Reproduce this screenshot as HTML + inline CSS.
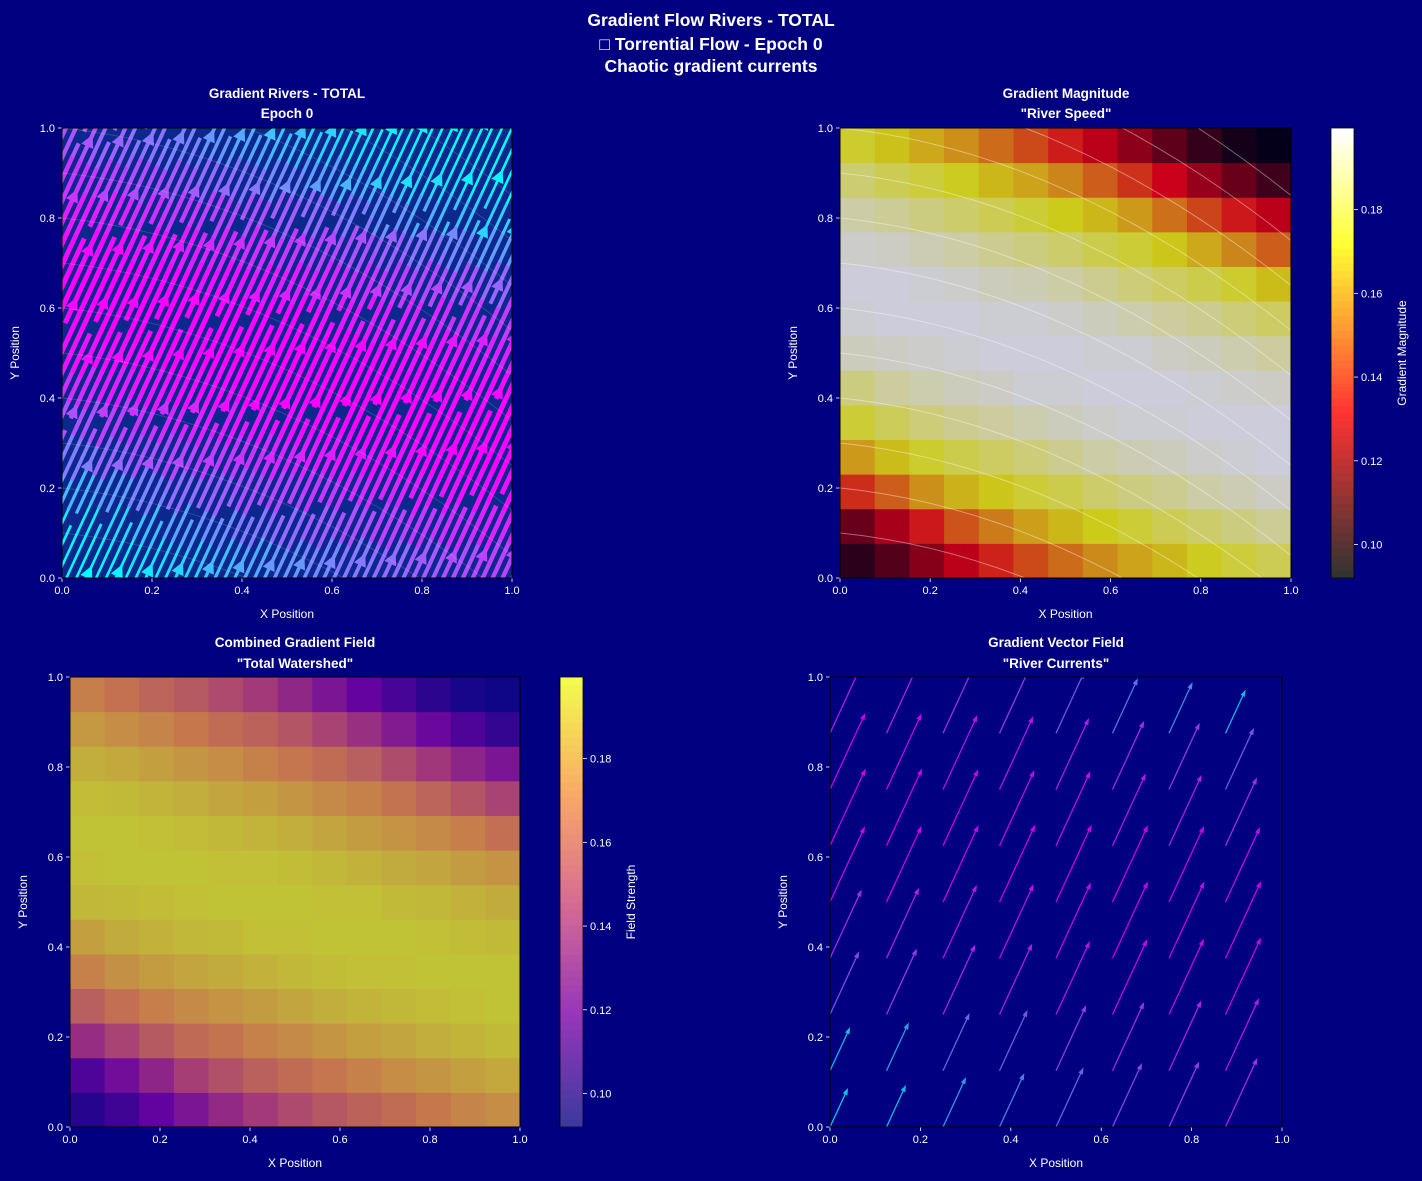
<!DOCTYPE html>
<html><head><meta charset="utf-8"><style>
html,body{margin:0;padding:0;background:#000080;}
svg{display:block;font-family:"Liberation Sans","DejaVu Sans","Noto Sans CJK SC",sans-serif;}
</style></head><body>
<svg id="fig" width="1422" height="1181" viewBox="0 0 1422 1181" xmlns="http://www.w3.org/2000/svg">
<rect width="1422" height="1181" fill="#000080"/>
<g fill="#fff" font-weight="bold" font-size="17.5" text-anchor="middle">
<text x="711" y="26">Gradient Flow Rivers - TOTAL</text>
<text x="711" y="50">□ Torrential Flow - Epoch 0</text>
<text x="711" y="72">Chaotic gradient currents</text>
</g>
<g fill="#fff" font-weight="bold" font-size="13.5" text-anchor="middle">
<text x="287" y="98">Gradient Rivers - TOTAL</text><text x="287" y="118">Epoch 0</text>
<text x="1066" y="98">Gradient Magnitude</text><text x="1066" y="118">"River Speed"</text>
<text x="295" y="647">Combined Gradient Field</text><text x="295" y="668">"Total Watershed"</text>
<text x="1056" y="647">Gradient Vector Field</text><text x="1056" y="668">"River Currents"</text>
</g>
<defs>
<clipPath id="c1"><rect x="62" y="128" width="450" height="450"/></clipPath>
<clipPath id="c2"><rect x="840" y="128" width="451" height="450"/></clipPath>
<clipPath id="c4"><rect x="830" y="677" width="452" height="450"/></clipPath>
</defs>
<g id="layer"></g>
</svg>
<script>
// Gradient magnitude field, rows bottom (y=0) to top (y=1), 13x13
const fieldRows = [
[.100,.108,.118,.128,.138,.146,.153,.159,.164,.168,.173,.177,.180],
[.112,.124,.136,.148,.156,.163,.168,.172,.176,.180,.183,.186,.189],
[.140,.150,.160,.167,.171,.176,.179,.183,.186,.188,.191,.193,.195],
[.162,.169,.175,.179,.182,.185,.188,.191,.193,.194,.196,.197,.198],
[.176,.181,.185,.188,.190,.192,.194,.196,.197,.197,.198,.198,.198],
[.186,.190,.192,.194,.195,.197,.197,.198,.198,.198,.197,.196,.195],
[.194,.195,.196,.197,.198,.198,.198,.197,.197,.195,.194,.192,.190],
[.197,.198,.198,.198,.197,.197,.196,.194,.192,.190,.188,.185,.182],
[.198,.198,.197,.196,.194,.193,.191,.188,.185,.182,.179,.175,.169],
[.196,.195,.193,.191,.188,.186,.183,.179,.176,.171,.165,.158,.150],
[.191,.189,.186,.183,.180,.176,.172,.168,.162,.154,.145,.136,.128],
[.184,.180,.177,.173,.168,.164,.158,.150,.141,.131,.121,.112,.104],
[.175,.170,.165,.160,.153,.146,.137,.128,.119,.110,.102,.096,.093]
];
const flowDir = [0.42, 0.91];
const tickLabels = ["0.0","0.2","0.4","0.6","0.8","1.0"];
const tickValues = [0,0.2,0.4,0.6,0.8,1.0];
const cbarTicks = [0.10,0.12,0.14,0.16,0.18];
const contourLevels = [-0.3,-0.2,-0.1,0,0.1,0.2,0.3,0.4,0.5,0.6,0.7,0.8,0.9,1.0,1.1,1.2,1.3];
const quiverPos = [0,0.125,0.25,0.375,0.5,0.625,0.75,0.875];
const VMIN=0.092, VMAX=0.1995;

const NS="http://www.w3.org/2000/svg";
const layer=document.getElementById('layer');
function mk(tag,attrs,parent){const e=document.createElementNS(NS,tag);for(const k in attrs)e.setAttribute(k,attrs[k]);(parent||layer).appendChild(e);return e;}
const N=fieldRows.length;
function field(x,y){let i=Math.min(N-1,Math.max(0,Math.floor(x*N)));let j=Math.min(N-1,Math.max(0,Math.floor(y*N)));return fieldRows[j][i];}
const fmin=Math.min(...fieldRows.flat()), fmax=Math.max(...fieldRows.flat());
function cl(v){return Math.max(0,Math.min(1,v));}
function hot(t){return [255*cl(t/0.365),255*cl((t-0.365)/0.381),255*cl((t-0.746)/0.254)];}
const plasmaStops=[[13,8,135],[126,3,168],[204,71,120],[248,149,64],[240,249,33]];
function plasma(t){t=cl(t)*4;let i=Math.min(3,Math.floor(t)),f=t-i;const a=plasmaStops[i],b=plasmaStops[i+1];return a.map((v,k)=>v+(b[k]-v)*f);}
function cool(t){t=cl(t);return [255*t,255*(1-t),255];}
function blend(c,a,bg){return 'rgb('+c.map((v,k)=>Math.round(v*a+bg[k]*(1-a))).join(',')+')';}
const NAVY=[0,0,128];

const P1={x:62,y:128,w:450,h:450},P2={x:840,y:128,w:451,h:450},P3={x:70,y:677,w:450,h:450},P4={x:830,y:677,w:452,h:450};
function px(P,x){return P.x+x*P.w;} function py(P,y){return P.y+(1-y)*P.h;}

function axes(P,name){
  const g=mk('g',{});
  tickValues.forEach((v,k)=>{
    const X=px(P,v),Y=py(P,v);
    mk('line',{x1:X,y1:P.y+P.h,x2:X,y2:P.y+P.h+4,stroke:'#fff','stroke-width':0.8},g);
    const tx=mk('text',{x:X,y:P.y+P.h+16,fill:'#fff','font-size':11,'text-anchor':'middle'},g);tx.textContent=tickLabels[k];
    
    mk('line',{x1:P.x-4,y1:Y,x2:P.x,y2:Y,stroke:'#fff','stroke-width':0.8},g);
    const ty=mk('text',{x:P.x-7,y:Y+4,fill:'#fff','font-size':11,'text-anchor':'end'},g);ty.textContent=tickLabels[k];
    
  });
  const xl=mk('text',{x:P.x+P.w/2,y:P.y+P.h+40,fill:'#fff','font-size':12,'text-anchor':'middle'},g);xl.textContent='X Position';
  
  const lx=P.x-43,ly=P.y+P.h/2;
  const yl=mk('text',{x:lx,y:ly,fill:'#fff','font-size':12,'text-anchor':'middle',transform:`rotate(-90 ${lx} ${ly})`},g);yl.textContent='Y Position';
  
  mk('rect',{x:P.x,y:P.y,width:P.w,height:P.h,fill:'none',stroke:'#000','stroke-width':1},g);
}

function heatmap(P,cmap,name){
  const g=mk('g',{});
  for(let j=0;j<N;j++)for(let i=0;i<N;i++){
    const t=(fieldRows[j][i]-VMIN)/(VMAX-VMIN);
    const r=mk('rect',{x:px(P,i/N),y:py(P,(j+1)/N),width:P.w/N+0.5,height:P.h/N+0.5,fill:blend(cmap(t),0.8,NAVY)},g);
    
    
  }
}
function contours(P,clip,op,name){
  const g=mk('g',{'clip-path':`url(#${clip})`});
  contourLevels.forEach(c=>{
    let d='';for(let s=0;s<=20;s++){const x=s/20,y=c-0.1*x-0.35*x*x;d+=(s?'L':'M')+px(P,x).toFixed(1)+','+py(P,y).toFixed(1);}
    const p=mk('path',{d:d,fill:'none',stroke:'#fff','stroke-opacity':op,'stroke-width':1},g);
    
  });
}
function colorbar(x,y,w,h,cmap,label,name){
  const g=mk('g',{});
  const n=60;
  for(let k=0;k<n;k++){mk('rect',{x:x,y:y+h-(k+1)*h/n,width:w,height:h/n+0.6,fill:blend(cmap(k/(n-1)),0.8,[255,255,255])},g);}
  mk('rect',{x:x,y:y,width:w,height:h,fill:'none',stroke:'#000','stroke-width':0.8},g);
  cbarTicks.forEach(v=>{const Y=y+h-(v-VMIN)/(VMAX-VMIN)*h;
    mk('line',{x1:x+w,y1:Y,x2:x+w+4,y2:Y,stroke:'#fff','stroke-width':0.8},g);
    const t=mk('text',{x:x+w+7,y:Y+4,fill:'#fff','font-size':11},g);t.textContent=v.toFixed(2);
    });
  const lx=x+w+52,ly=y+h/2;
  const t=mk('text',{x:lx,y:ly,fill:'#fff','font-size':12,'text-anchor':'middle',transform:`rotate(-90 ${lx} ${ly})`},g);t.textContent=label;
  
}

// Panel 1: streamplot
(function(){
  const P=P1;
  const g=mk('g',{'clip-path':'url(#c1)'});
  mk('rect',{x:P.x,y:P.y,width:P.w,height:P.h,fill:'rgb(12,40,140)'},g);
  contours(P,'c1',0.15,'stream-contours');
  const L=Math.hypot(flowDir[0],flowDir[1]);const ux=flowDir[0]/L,uy=-flowDir[1]/L;
  const nx=-uy,ny=ux;const cx=P.x+P.w/2,cy=P.y+P.h/2;
  let li=0;
  for(let s=-340;s<=340;s+=9,li++){
    const ox=cx+nx*s,oy=cy+ny*s;
    let k=0;
    for(let t=-360;t<360;t+=14,k++){
      if(((k*7+li*13)%23)===0)continue;
      const x1=ox+ux*t,y1=oy+uy*t,x2=ox+ux*(t+15),y2=oy+uy*(t+15);
      const mx=(x1+x2)/2,my=(y1+y2)/2;
      if(mx<P.x-20||mx>P.x+P.w+20||my<P.y-20||my>P.y+P.h+20)continue;
      const m=field((mx-P.x)/P.w,1-(my-P.y)/P.h);const tn=Math.pow((m-fmin)/(fmax-fmin),1.6);
      const col=blend(cool(tn),1,NAVY);
      const seg=mk('line',{x1:x1,y1:y1,x2:x2,y2:y2,stroke:col,'stroke-width':(2.5+2.5*tn).toFixed(2)},g);
      
      if(((k+li*4)%13)===0){
        const hx=x2,hy=y2,bx=hx-ux*13,by=hy-uy*13;
        const a=mk('polygon',{points:`${hx},${hy} ${bx+nx*6.5},${by+ny*6.5} ${bx-nx*6.5},${by-ny*6.5}`,fill:col},g);
        
      }
    }
  }
  axes(P,'rivers');
})();

// Panel 2: magnitude
heatmap(P2,hot,'magnitude-heatmap');
contours(P2,'c2',0.4,'magnitude-contours');
axes(P2,'magnitude');
colorbar(1331,128,23,450,hot,'Gradient Magnitude','magnitude-colorbar');

// Panel 3: combined field
heatmap(P3,plasma,'field-heatmap');
axes(P3,'field');
colorbar(560,677,23,450,plasma,'Field Strength','field-colorbar');

// Panel 4: quiver
(function(){
  const P=P4;
  const g=mk('g',{'clip-path':'url(#c4)'});
  const L=Math.hypot(flowDir[0],flowDir[1]);const ux=flowDir[0]/L,uy=flowDir[1]/L;
  const qm=[];quiverPos.forEach(y=>quiverPos.forEach(x=>qm.push(field(x,y))));
  const qmin=Math.min(...qm),qmax=Math.max(...qm);
  quiverPos.forEach(y=>quiverPos.forEach(x=>{
    const m=field(x,y);const len=430*m;
    const x1=px(P,x),y1=py(P,y),x2=x1+ux*len,y2=y1-uy*len;
    const col=blend(cool((m-qmin)/(qmax-qmin)),0.8,NAVY);
    const ln=mk('line',{x1:x1,y1:y1,x2:x2-ux*5,y2:y2+uy*5,stroke:col,'stroke-width':1.3},g);
    
    const bx=x2-ux*7,by=y2+uy*7,nx=uy,ny=ux;
    mk('polygon',{points:`${x2},${y2} ${bx+nx*2.5},${by+ny*2.5} ${bx-nx*2.5},${by-ny*2.5}`,fill:col},g);
  }));
  axes(P,'vector');
})();
</script>
</body></html>
